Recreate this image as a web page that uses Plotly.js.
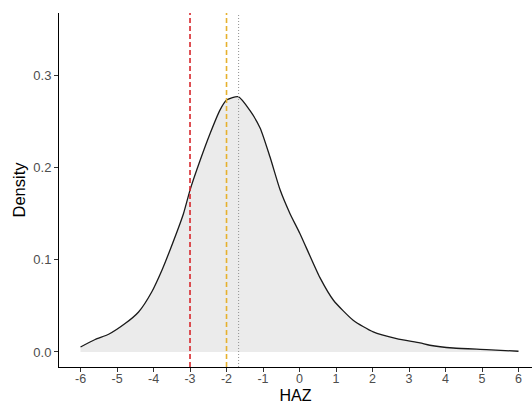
<!DOCTYPE html>
<html>
<head>
<meta charset="utf-8">
<script src="https://cdn.plot.ly/plotly-3.0.1.min.js"></script>
<style>html,body{margin:0;padding:0;background:#fff;}#chart{width:532px;height:404px;}</style>
</head>
<body>
<div id="chart"></div>
<script>
// Density curve of HAZ
const hazX = [-6.0, -5.6, -5.23, -4.78, -4.41, -4.05, -3.77, -3.55, -3.18, -3.0, -2.72, -2.45, -2.18, -1.99, -1.68, -1.36, -1.08, -0.81, -0.53, -0.26, 0.01, 0.56, 0.93, 1.47, 2.02, 2.66, 3.3, 3.57, 4.21, 5.12, 6.0];
const density = [0.0054, 0.0135, 0.0192, 0.0308, 0.0434, 0.0651, 0.0887, 0.1104, 0.150, 0.1756, 0.2082, 0.237, 0.2624, 0.2735, 0.2769, 0.262, 0.243, 0.2117, 0.1756, 0.150, 0.1286, 0.0806, 0.0561, 0.0344, 0.0217, 0.0145, 0.0098, 0.0073, 0.0043, 0.0026, 0.0008];

// Reference lines
const refX = [-3, -2, -1.67];
const refColor = ['#d7262b', '#e6b12e', '#9a9a9a'];
const refDash = ['5px,3px', '5px,3px', '1px,2px'];
const refWidth = [1.6, 1.6, 1.1];

const xTicks = [-6, -5, -4, -3, -2, -1, 0, 1, 2, 3, 4, 5, 6];
const yTicks = [0, 0.1, 0.2, 0.3];

const traces = [{
  x: hazX, y: density, type: 'scatter', mode: 'lines',
  line: {color: '#1a1a1a', width: 1.3, shape: 'spline', smoothing: 0.6},
  fill: 'tozeroy', fillcolor: '#ebebeb', hoverinfo: 'skip'
}];

const shapes = refX.map((v, i) => ({
  type: 'line', xref: 'x', yref: 'paper', x0: v, x1: v, y0: 0, y1: 1,
  line: {color: refColor[i], width: refWidth[i], dash: refDash[i]}
}));

const font = 'Liberation Sans, Arial, sans-serif';
const layout = {
  width: 532, height: 404,
  margin: {l: 59, r: 0, t: 13, b: 37},
  paper_bgcolor: '#fff', plot_bgcolor: '#fff',
  showlegend: false,
  font: {family: font},
  xaxis: {
    range: [-6.59, 6.37], tickmode: 'array', tickvals: xTicks, ticktext: xTicks.map(String),
    showgrid: false, zeroline: false, showline: true, linecolor: '#000', linewidth: 1,
    ticks: 'outside', ticklen: 0, tickcolor: '#333', tickwidth: 1,
    minor: {tickmode: 'array', tickvals: xTicks, ticks: 'outside', ticklen: 4, tickcolor: '#333', tickwidth: 1, showgrid: false},
    tickfont: {size: 12.5, color: '#4d4d4d', family: font},
    title: {text: 'HAZ', font: {size: 16, color: '#000', family: font}, standoff: 7}
  },
  yaxis: {
    range: [-0.0163, 0.3677], tickvals: yTicks, ticktext: yTicks.map(v => v.toFixed(1)),
    showgrid: false, zeroline: false, showline: true, linecolor: '#000', linewidth: 1,
    ticks: 'outside', ticklen: 4, tickcolor: '#333', tickwidth: 1,
    tickfont: {size: 13, color: '#4d4d4d', family: font},
    title: {text: 'Density', font: {size: 16.5, color: '#000', family: font}, standoff: 3}
  },
  shapes: shapes
};

Plotly.newPlot('chart', traces, layout, {staticPlot: true, displayModeBar: false});
</script>
</body>
</html>
